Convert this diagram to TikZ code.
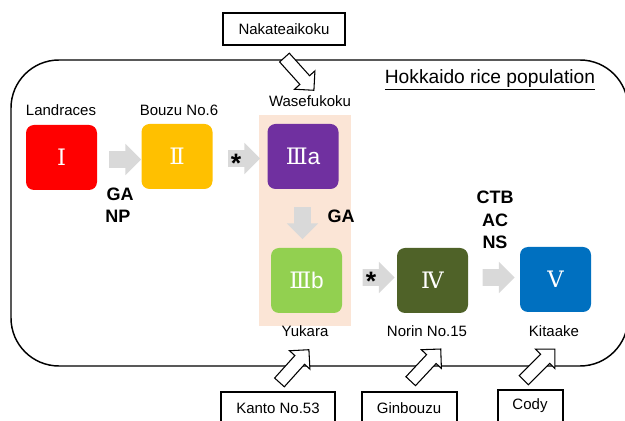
\documentclass[tikz,border=0pt]{standalone}
\usepackage{fontspec}
\setmainfont{Liberation Sans}
\newfontfamily\romfont{DejaVu Serif}
\usetikzlibrary{shapes.arrows}

\definecolor{cRed}{HTML}{FF0000}
\definecolor{cOrange}{HTML}{FFC000}
\definecolor{cPurple}{HTML}{7030A0}
\definecolor{cGreen}{HTML}{92D050}
\definecolor{cOlive}{HTML}{4F6228}
\definecolor{cBlue}{HTML}{0070C0}
\definecolor{cPeach}{HTML}{FBE5D6}
\definecolor{cGray}{HTML}{D9D9D9}

\tikzset{
  groupbox/.style={rounded corners=6pt, minimum width=53.25pt, minimum height=48.75pt,
    text=white, font=\romfont\fontsize{17}{20}\selectfont},
  cultivar/.style={font=\fontsize{11.25}{13}\selectfont},
  trait/.style={font=\bfseries\fontsize{13.5}{16}\selectfont},
  star/.style={font=\bfseries\fontsize{20}{22}\selectfont},
  flowarrow/.style={single arrow, fill=cGray, inner sep=6pt, minimum height=24pt,
    single arrow head extend=5.6pt},
  donorbox/.style={draw, line width=0.8pt, font=\fontsize{11.25}{13}\selectfont},
  donorarrow/.style={single arrow, draw, fill=white, line width=0.8pt, inner sep=4.5pt,
    minimum height=33pt, single arrow head extend=5.4pt}
}

\begin{document}
\begin{tikzpicture}[x=0.75pt,y=0.75pt]
\useasboundingbox (0,0) rectangle (625,421);
\clip (0,0) rectangle (625,421);

\fill[cPeach] (259,306) rectangle (351,95);
\draw[line width=1.1pt, rounded corners=36pt] (11,55) rectangle (628,361);
\node[font=\fontsize{14.4}{17}\selectfont] (title) at (490,341) {\underline{Hokkaido rice population}};

% groups
\node[groupbox, fill=cRed] (g1) at (61.5,263.5) {Ⅰ};
\node[groupbox, fill=cOrange] (g2) at (177,264.5) {Ⅱ};
\node[groupbox, fill=cPurple] (g3a) at (303,264.5) {Ⅲ\rmfamily a};
\node[groupbox, fill=cGreen] (g3b) at (306.5,140.5) {Ⅲ\rmfamily b};
\node[groupbox, fill=cOlive] (g4) at (432.5,140.5) {Ⅳ};
\node[groupbox, fill=cBlue] (g5) at (555.5,141.5) {Ⅴ};

% cultivar names
\node[cultivar] (landraces) at (61,311) {Landraces};
\node[cultivar] (bouzu) at (179,311) {Bouzu No.6};
\node[cultivar] (wasefukoku) at (310,320) {Wasefukoku};
\node[cultivar] (yukara) at (305,90) {Yukara};
\node[cultivar] (norin) at (427,90) {Norin No.15};
\node[cultivar] (kitaake) at (554,90) {Kitaake};

% gray arrows
\node[flowarrow] (a12) at (121,261.5) {};
\node[flowarrow] (a23) at (240,262.5) {};
\node[flowarrow, rotate=-90] (a33) at (302.5,202) {};
\node[flowarrow] (a34) at (374.5,143.5) {};
\node[flowarrow] (a45) at (494.5,143.5) {};

\node[star] (star1) at (236,258) {*};
\node[star] (star2) at (371,140) {*};
\node[trait] (ga1) at (120,227) {GA};
\node[trait] (np) at (118,205) {NP};
\node[trait] (ga2) at (341,205) {GA};
\node[trait] (ctb) at (495,224) {CTB};
\node[trait] (ac) at (495,201) {AC};
\node[trait] (ns) at (495,179) {NS};

% donors
\node[donorbox, minimum width=91.5pt, minimum height=24pt] (nakate) at (284,392) {Nakateaikoku};
\draw[line width=0.8pt] (221,-10) rectangle (335,29);
\node[cultivar] (kanto) at (278,13) {Kanto No.53};
\draw[line width=0.8pt] (362,-10) rectangle (457,29);
\node[cultivar] (ginbouzu) at (409,13) {Ginbouzu};
\draw[line width=0.8pt] (498,-10) rectangle (563,31);
\node[cultivar] (cody) at (530,15) {Cody};

\node[donorarrow, rotate=-48] (dn1) at (297,349.5) {};
\node[donorarrow, rotate=48] (dn2) at (292,52.5) {};
\node[donorarrow, rotate=47] (dn3) at (423.5,53.5) {};
\node[donorarrow, rotate=45] (dn4) at (537,54) {};
\end{tikzpicture}
\end{document}
